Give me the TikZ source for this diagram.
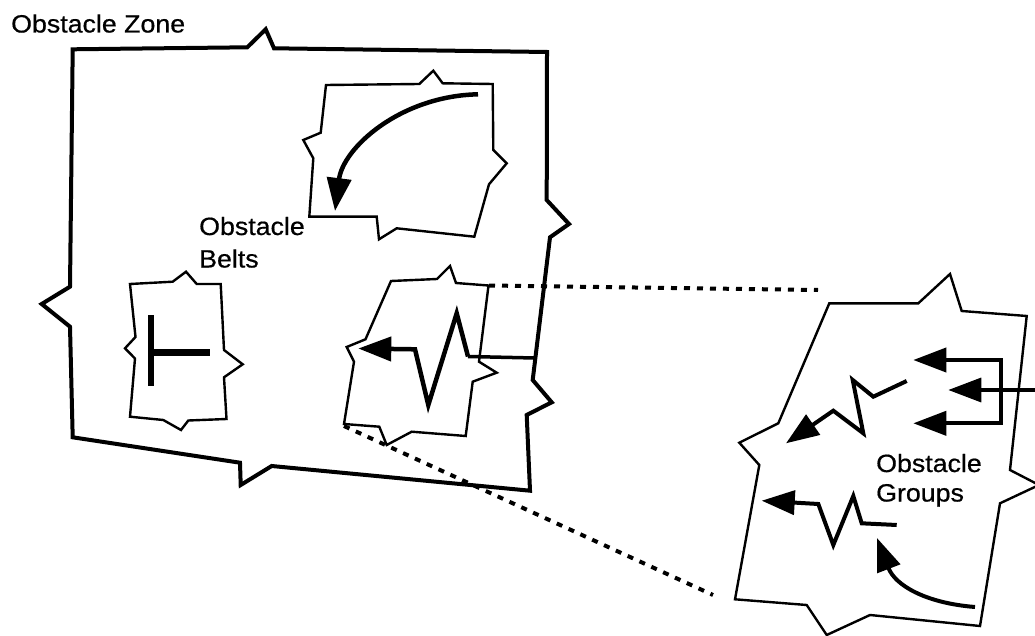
\documentclass[tikz,border=0pt]{standalone}
\usepackage{fontspec}
\setmainfont{Liberation Sans}[FakeStretch=1.07,FakeBold=0.6]
\usetikzlibrary{arrows.meta}
\begin{document}
\begin{tikzpicture}[x=1pt,y=-1pt,
  zone/.style={line width=4pt,line join=miter},
  belt/.style={line width=2.4pt,line join=miter},
  dots/.style={line width=4pt,dash pattern=on 6pt off 7pt},
  hvy/.style={line width=4.5pt,line join=miter,-{Triangle[length=33pt 0 0,width=24pt 0 0]}},
  hvyb/.style={line width=4pt,line join=miter,{Triangle[length=33pt 0 0,width=24pt 0 0]}-{Triangle[length=33pt 0 0,width=24pt 0 0]}},
  bar/.style={line width=6.5pt},
  lbl/.style={font=\fontsize{25}{30}\selectfont,inner sep=0pt,anchor=base west}]
\useasboundingbox (0,0) rectangle (1035,636);
\clip (0,0) rectangle (1035,636);
% labels
\node[lbl] (zoneA) at (11,32.5) {Obstacle Zone};
\node[lbl] (beltsA) at (199,235) {Obstacle};
\node[lbl] (beltsB) at (199,267.5) {Belts};
\node[lbl] (groupsA) at (876,472) {Obstacle};
\node[lbl] (groupsB) at (876,501.5) {Groups};
% obstacle zone
\draw[zone] (72.7,49.3) -- (247.3,47.3) -- (265.7,29.3) -- (274,48.3) -- (547,52)
  -- (546.7,200) -- (569,224) -- (550,237.3) -- (532.7,380) -- (551.7,402.3)
  -- (526.7,415) -- (530,490.7) -- (271.7,466) -- (240.7,485) -- (240,462.7)
  -- (72.7,437.3) -- (70,326.7) -- (41.7,304) -- (70,286.7) -- cycle;
% top belt
\draw[belt] (326,85) -- (419.3,84) -- (433.3,70.7) -- (442.7,83.3) -- (492.7,84)
  -- (493.3,150) -- (506.7,163.3) -- (489,184.3) -- (474.3,236.7) -- (396.7,228.3)
  -- (379,239.3) -- (376.7,216.7) -- (309.3,216.7) -- (313.3,158.3) -- (303.3,140)
  -- (320.7,132.7) -- cycle;
\coordinate (curS) at (478,94.3);
\coordinate (curE) at (335,211);
\draw[hvy] (curS) .. controls (400,96) and (343,148) .. (curE);
% left belt
\draw[belt] (130,284) -- (172.7,281.7) -- (186,271.7) -- (196.7,284) -- (220.7,284)
  -- (224,350) -- (242.7,364.3) -- (224,377.3) -- (226.5,419) -- (188.3,420.5)
  -- (181,430) -- (163.3,420) -- (130,416.7) -- (135,358.5) -- (125,348.3)
  -- (135.5,337) -- cycle;
\coordinate (tTop) at (151,315);
\coordinate (tBot) at (151,386);
\coordinate (tMid) at (151,352.5);
\coordinate (tEnd) at (210,352.5);
\draw[bar] (tTop) -- (tBot);
\draw[bar] (tMid) -- (tEnd);
% zigzag belt
\draw[belt] (391,281) -- (437,279) -- (450,266) -- (456,283) -- (488.5,285.5)
  -- (479,361.7) -- (496.7,372.7) -- (472.7,381.7) -- (465.7,436) -- (411.7,431.7)
  -- (386.7,445) -- (379.3,426.7) -- (344,424) -- (354,361.7) -- (346.7,347)
  -- (365.5,339.3) -- cycle;
\coordinate (zzS) at (468,356.5);
\coordinate (zzE) at (358.3,348.5);
\coordinate (zEdge) at (534.5,358);
\draw[line width=3.5pt] (zEdge) -- (zzS);
\draw[hvy] (zzS) -- (456.7,313.3) -- (428.3,405) -- (415,349.3) -- (zzE);
% dotted connectors
\coordinate (zbTR) at (489,285.5);
\coordinate (grpT) at (818,290);
\coordinate (zbBL) at (344,426);
\coordinate (grpB) at (713,595);
\draw[dots] (zbTR) -- (grpT);
\draw[dots] (zbBL) -- (grpB);
% obstacle groups
\draw[belt] (829.3,303.3) -- (918.3,303.3) -- (950,274) -- (961.7,311) -- (1026.7,316)
  -- (1010,470) -- (1039,485) -- (1000,503.3) -- (980,626) -- (870,615)
  -- (826.7,635) -- (806.7,605) -- (735,599.3) -- (759.3,465) -- (739.3,442.7)
  -- (778.3,423.3) -- cycle;
\coordinate (brT) at (913.3,360);
\coordinate (brB) at (913.3,423.3);
\draw[hvyb] (brT) -- (1000.5,360) -- (1000.5,423.3) -- (brB);
\coordinate (midS) at (1040,390);
\coordinate (midE) at (948.3,390);
\draw[hvy,line width=3.5pt] (midS) -- (midE);
\coordinate (g1S) at (906.7,381);
\coordinate (g1E) at (786,443.3);
\draw[hvy,line width=4pt] (g1S) -- (873.3,396.7) -- (852.7,380) -- (863.3,433.3) -- (833.3,410.7) -- (g1E);
\coordinate (g2S) at (896.7,525);
\coordinate (g2E) at (761.7,500.7);
\draw[hvy,line width=4pt] (g2S) -- (861.7,523.3) -- (853.3,496) -- (833.3,545) -- (818.3,504) -- (g2E);
\coordinate (g3S) at (975,607);
\coordinate (g3E) at (877,538);
\draw[hvy,line width=4pt] (g3S) .. controls (925,603) and (895,585) .. (g3E);
\end{tikzpicture}
\end{document}
